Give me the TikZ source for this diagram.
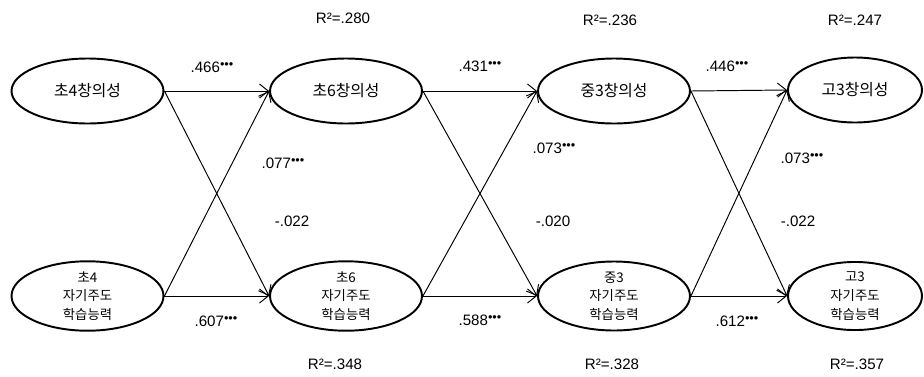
\documentclass[tikz,border=0pt]{standalone}
\usepackage{fontspec}
\setmainfont{Liberation Sans}
\newfontfamily\krfont{Noto Sans CJK KR}
\usepackage{tikz}
\usetikzlibrary{arrows.meta, shapes.geometric}
\newcommand{\sig}{\raisebox{0.75ex}{\scalebox{0.55}{$\bullet\mkern-4mu\bullet\mkern-4mu\bullet$}}}

\begin{document}
\begin{tikzpicture}[x=0.02cm, y=-0.02cm,
  latent/.style={ellipse, draw, line width=1.1pt, minimum width=3.04cm, minimum height=1.3cm, inner sep=0pt, align=center},
  crea/.style={latent, font=\krfont\fontsize{9}{11}\selectfont},
  sdl/.style={latent, font=\krfont\fontsize{7.6}{10.6}\selectfont},
  endlatent/.style={minimum width=2.68cm},
  coef/.style={font=\fontsize{8.6}{10}\selectfont, inner sep=0pt},
  path/.style={-{Straight Barb[length=5pt, width=8pt]}, line width=0.55pt}]
\useasboundingbox (0,0) rectangle (924,376);

% creativity (top row)
\node[crea] (c4) at (87.5, 91) {초4창의성};
\node[crea] (c6) at (346, 91) {초6창의성};
\node[crea] (m3) at (614, 91) {중3창의성};
\node[crea, endlatent] (h3) at (855, 90) {고3창의성};

% self-directed learning (bottom row)
\node[sdl] (s4) at (87.5, 296) {초4\\자기주도\\학습능력};
\node[sdl] (s6) at (346, 296) {초6\\자기주도\\학습능력};
\node[sdl] (sm3) at (614, 296) {중3\\자기주도\\학습능력};
\node[sdl, endlatent] (sh3) at (855, 296) {고3\\자기주도\\학습능력};

% paths
\draw[path] (c4.east) -- (c6.west);
\draw[path] (c4.east) -- (s6.west);
\draw[path] (s4.east) -- (c6.west);
\draw[path] (s4.east) -- (s6.west);
\draw[path] (c6.east) -- (m3.west);
\draw[path] (c6.east) -- (sm3.west);
\draw[path] (s6.east) -- (m3.west);
\draw[path] (s6.east) -- (sm3.west);
\draw[path] (m3.east) -- (h3.west);
\draw[path] (m3.east) -- (sh3.west);
\draw[path] (sm3.east) -- (h3.west);
\draw[path] (sm3.east) -- (sh3.west);

% coefficients
\node[coef] (b1) at (212, 67) {.466\sig};
\node[coef] (b2) at (480, 66) {.431\sig};
\node[coef] (b3) at (727, 66) {.446\sig};
\node[coef] (b4) at (283, 163) {.077\sig};
\node[coef] (b5) at (554, 148) {.073\sig};
\node[coef] (b6) at (802, 158) {.073\sig};
\node[coef] (b7) at (292, 221) {-.022};
\node[coef] (b8) at (553, 221) {-.020};
\node[coef] (b9) at (798, 221) {-.022};
\node[coef] (b10) at (216, 321) {.607\sig};
\node[coef] (b11) at (480, 320) {.588\sig};
\node[coef] (b12) at (737, 321) {.612\sig};

% explained variance
\node[coef] (r1) at (343, 18) {R²=.280};
\node[coef] (r2) at (610, 20) {R²=.236};
\node[coef] (r3) at (855, 20) {R²=.247};
\node[coef] (r4) at (335, 364) {R²=.348};
\node[coef] (r5) at (612, 364) {R²=.328};
\node[coef] (r6) at (857, 364) {R²=.357};
\end{tikzpicture}
\end{document}
